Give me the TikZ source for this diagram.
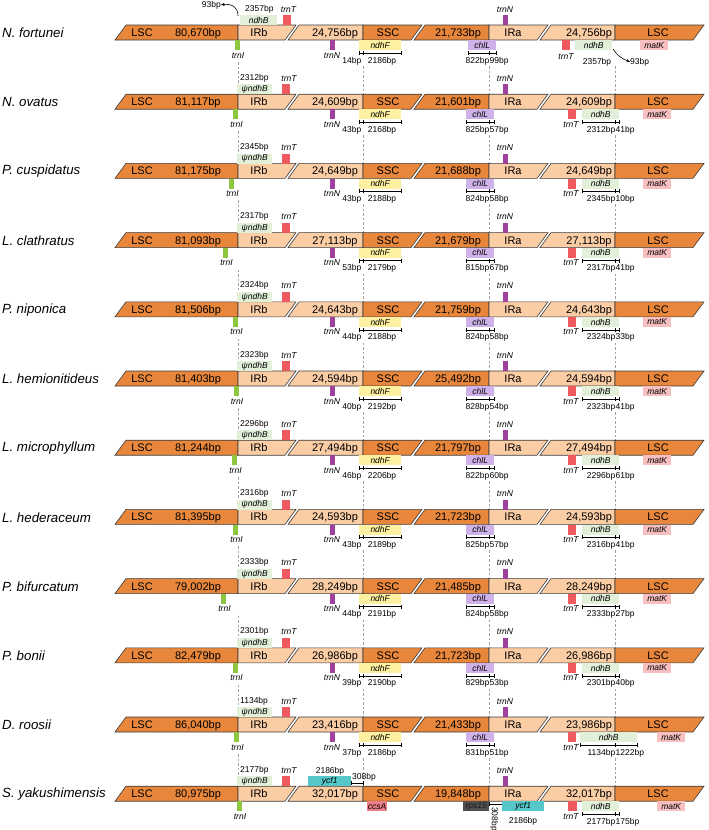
\documentclass[tikz,border=0pt]{standalone}
\usepackage{fontspec}
\setmainfont{Liberation Sans}
\usetikzlibrary{arrows.meta}
\definecolor{dk}{HTML}{E8873C}
\definecolor{lt}{HTML}{FBCDA5}
\definecolor{edgec}{HTML}{3A3A3A}
\definecolor{cndhB}{HTML}{E2EFD9}
\definecolor{ctrnT}{HTML}{EE5A5E}
\definecolor{ctrnI}{HTML}{8DC63F}
\definecolor{ctrnN}{HTML}{A0409F}
\definecolor{cndhF}{HTML}{FDF0A0}
\definecolor{cchlL}{HTML}{D0B2EA}
\definecolor{cmatK}{HTML}{F7BFBF}
\definecolor{cycf}{HTML}{55C7C9}
\definecolor{cccsA}{HTML}{EE7F89}
\definecolor{crps}{HTML}{555050}
\definecolor{dashc}{HTML}{A0A0A0}
\tikzset{
 seg/.style={draw=edgec,line width=0.6pt,line join=miter},
 bl/.style={font=\fontsize{11}{12}\selectfont,inner sep=0pt,anchor=base},
 spn/.style={font=\fontsize{13.3}{15}\selectfont\itshape,inner sep=0pt,anchor=west},
 lb/.style={font=\fontsize{8.5}{9}\selectfont,inner sep=0pt},
 gn/.style={font=\fontsize{8.5}{9}\selectfont\itshape,inner sep=0pt},
 gb/.style={rectangle,inner sep=0pt,minimum height=10pt,anchor=north west,font=\fontsize{8.5}{9}\selectfont\itshape},
 ml/.style={draw=black,line width=0.6pt},
 dl/.style={draw=dashc,line width=0.5pt,dash pattern=on 2.5pt off 2pt},
 arr/.style={draw=black,line width=0.6pt,-{Stealth[length=3.5pt,width=3pt]}},
}
\newcommand{\meas}[5]{%
 \coordinate (#1a) at (#3,#2); \coordinate (#1m) at (#4,#2); \coordinate (#1z) at (#5,#2);
 \draw[ml] (#1a) -- (#1z);
 \draw[ml] ([yshift=2pt]#1a) -- ([yshift=-2pt]#1a);
 \draw[ml] ([yshift=2pt]#1m) -- ([yshift=-2pt]#1m);
 \draw[ml] ([yshift=2pt]#1z) -- ([yshift=-2pt]#1z);
}
\newcommand{\rowbars}[7]{%
 \path[seg,fill=dk] (115,#2+15) -- (126,#2) -- (238,#2) -- (238,#2+15) -- cycle;
 \path[seg,fill=lt] (238,#2+15) -- (238,#2) -- (296,#2) -- (285,#2+15) -- cycle;
 \path[seg,fill=lt] (288,#2+15) -- (299,#2) -- (363,#2) -- (363,#2+15) -- cycle;
 \path[seg,fill=dk] (363,#2+15) -- (363,#2) -- (422,#2) -- (411,#2+15) -- cycle;
 \path[seg,fill=dk] (414,#2+15) -- (425,#2) -- (489,#2) -- (489,#2+15) -- cycle;
 \path[seg,fill=lt] (489,#2+15) -- (489,#2) -- (548,#2) -- (537,#2+15) -- cycle;
 \path[seg,fill=lt] (540,#2+15) -- (551,#2) -- (615,#2) -- (615,#2+15) -- cycle;
 \path[seg,fill=dk] (615,#2+15) -- (615,#2) -- (704,#2) -- (693,#2+15) -- cycle;
 \node[spn] (#1sp) at (2,#2+8) {#3};
 \node[bl] (#1la) at (142,#2+11.5) {LSC};
 \node[bl] (#1lan) at (198,#2+11.5) {#4bp};
 \node[bl] (#1ib) at (259,#2+11.5) {IRb};
 \node[bl] (#1ibn) at (335,#2+11.5) {#5bp};
 \node[bl] (#1ss) at (388,#2+11.5) {SSC};
 \node[bl] (#1ssn) at (458,#2+11.5) {#6bp};
 \node[bl] (#1ia) at (513,#2+11.5) {IRa};
 \node[bl] (#1ian) at (589,#2+11.5) {#7bp};
 \node[bl] (#1lb) at (658,#2+11.5) {LSC};
}
\newcommand{\rowtop}[4]{%
 \node[gb,fill=cndhB,minimum width=35pt] (#1pB) at (237,#2-10) {ψndhB};
 \node[lb,anchor=base west] (#1pBl) at (240,#2-14) {#3bp};
 \node[gb,fill=ctrnT,minimum width=8pt] (#1tTa) at (282,#2-10) {};
 \node[gn,anchor=base] (#1tTal) at (289,#2-13) {trnT};
 \node[gb,fill=ctrnN,minimum width=5pt] (#1tNa) at (502.5,#2-10) {};
 \node[gn,anchor=base] (#1tNal) at (505,#2-13) {trnN};
 \node[gb,fill=ctrnI,minimum width=5pt] (#1tI) at (#4,#2+15) {};
 \node[gn,anchor=base] (#1tIl) at (#4+3.5,#2+33) {trnI};
}
\newcommand{\rowmid}[6]{%
 \node[gb,fill=ctrnN,minimum width=5pt] (#1tNb) at (330,#2+15) {};
 \node[gn,anchor=base] (#1tNbl) at (332,#2+33) {trnN};
 \node[gb,fill=cndhF,minimum width=42pt] (#1F) at (359,#2+15) {ndhF};
 \meas{#1mf}{#2+28}{359}{363}{401}
 \node[lb,anchor=base east] (#1Fl) at (361.5,#2+38) {#3bp};
 \node[lb,anchor=base] (#1Fr) at (382,#2+38) {#4bp};
 \node[gb,fill=cchlL,minimum width=28pt] (#1C) at (466,#2+15) {chlL};
 \meas{#1mc}{#2+28}{466}{489}{494}
 \node[lb,anchor=base east] (#1Cl) at (489.5,#2+38) {#5bp};
 \node[lb,anchor=base west] (#1Cr) at (489.5,#2+38) {#6bp};
 \node[gb,fill=ctrnT,minimum width=8pt] (#1tTb) at (568,#2+15) {};
 \node[gn,anchor=base] (#1tTbl) at (571,#2+33) {trnT};
}
\newcommand{\rowend}[5]{%
 \node[gb,fill=cndhB,minimum width=37pt] (#1B) at (582,#2+15) {ndhB};
 \meas{#1mb}{#2+28}{582}{615}{619}
 \node[lb,anchor=base east] (#1Bl) at (615.5,#2+38) {#3bp};
 \node[lb,anchor=base west] (#1Br) at (615.5,#2+38) {#4bp};
 \node[gb,fill=cmatK,minimum width=28pt] (#1K) at (#5,#2+15) {matK};
}
\begin{document}
\begin{tikzpicture}[x=1pt,y=-1pt]
\useasboundingbox (0,0) rectangle (709,830);
% dashed junction guides
\foreach \i in {0,...,10} {
 \pgfmathsetmacro\ya{25+69.2*\i}
 \pgfmathsetmacro\yb{25+69.2*(\i+1)}
 \coordinate (gA\i) at (238,\ya+37); \coordinate (gAz\i) at (238,\yb);
 \coordinate (gB\i) at (363,\ya+41); \coordinate (gBz\i) at (363,\yb);
 \coordinate (gC\i) at (489,\ya+41); \coordinate (gCz\i) at (489,\yb);
 \coordinate (gD\i) at (615,\ya+41); \coordinate (gDz\i) at (615,\yb);
 \draw[dl] (gA\i) -- (gAz\i);
 \draw[dl] (gB\i) -- (gBz\i);
 \draw[dl] (gC\i) -- (gCz\i);
 \draw[dl] (gD\i) -- (gDz\i);
}
% ---------- row 1
\rowbars{r1}{25}{N. fortunei}{80,670}{24,756}{21,733}{24,756}
\node[gb,fill=cndhB,minimum width=37pt] (r1Bt) at (240,15) {ndhB};
\node[lb,anchor=base west] (r1Btl) at (245,11) {2357bp};
\node[lb,anchor=base east] (r1n93a) at (221,7) {93bp};
\coordinate (r1a0) at (238,16);
\draw[arr] (r1a0) .. controls (238,7) and (232,3.5) .. (r1n93a.east);
\node[gb,fill=ctrnT,minimum width=8pt] (r1tTa) at (283,15) {};
\node[gn,anchor=base] (r1tTal) at (288.5,12) {trnT};
\node[gb,fill=ctrnN,minimum width=5pt] (r1tNa) at (502.5,15) {};
\node[gn,anchor=base] (r1tNal) at (505,12) {trnN};
\node[gb,fill=ctrnI,minimum width=5pt] (r1tI) at (234.5,40) {};
\node[gn,anchor=base] (r1tIl) at (238,58) {trnI};
\node[gb,fill=ctrnN,minimum width=5pt] (r1tNb) at (330,40) {};
\node[gn,anchor=base] (r1tNbl) at (332,58) {trnN};
\node[gb,fill=cndhF,minimum width=42pt] (r1F) at (359,40) {ndhF};
\meas{r1mf}{53}{359}{363}{401}
\node[lb,anchor=base east] (r1Fl) at (361.5,63) {14bp};
\node[lb,anchor=base] (r1Fr) at (382,63) {2186bp};
\node[gb,fill=cchlL,minimum width=28pt] (r1C) at (468,40) {chlL};
\meas{r1mc}{53}{468}{489}{496}
\node[lb,anchor=base east] (r1Cl) at (489.5,63) {822bp};
\node[lb,anchor=base west] (r1Cr) at (489.5,63) {99bp};
\node[gb,fill=ctrnT,minimum width=8pt] (r1tTb) at (562,40) {};
\node[gn,anchor=base] (r1tTbl) at (566,59) {trnT};
\node[gb,fill=cndhB,minimum width=37pt] (r1Bb) at (575,40) {ndhB};
\node[lb,anchor=base] (r1Bbl) at (597,64) {2357bp};
\node[lb,anchor=base west] (r1n93b) at (630,64) {93bp};
\coordinate (r1a1) at (613,49);
\draw[arr] (r1a1) .. controls (617,55) and (621,58.5) .. (r1n93b.west);
\node[gb,fill=cmatK,minimum width=28pt] (r1K) at (640,40) {matK};
% ---------- rows 2-10
\rowbars{r2}{94.2}{N. ovatus}{81,117}{24,609}{21,601}{24,609}
\rowtop{r2}{94.2}{2312}{233}\rowmid{r2}{94.2}{43}{2168}{825}{57}\rowend{r2}{94.2}{2312}{41}{643}
\rowbars{r3}{163.4}{P. cuspidatus}{81,175}{24,649}{21,688}{24,649}
\rowtop{r3}{163.4}{2345}{229}\rowmid{r3}{163.4}{43}{2188}{824}{58}\rowend{r3}{163.4}{2345}{10}{643}
\rowbars{r4}{232.6}{L. clathratus}{81,093}{27,113}{21,679}{27,113}
\rowtop{r4}{232.6}{2317}{223}\rowmid{r4}{232.6}{53}{2179}{815}{67}\rowend{r4}{232.6}{2317}{41}{643}
\rowbars{r5}{301.8}{P. niponica}{81,506}{24,643}{21,759}{24,643}
\rowtop{r5}{301.8}{2324}{233}\rowmid{r5}{301.8}{44}{2188}{824}{58}\rowend{r5}{301.8}{2324}{33}{643}
\rowbars{r6}{371}{L. hemionitideus}{81,403}{24,594}{25,492}{24,594}
\rowtop{r6}{371}{2323}{233.5}\rowmid{r6}{371}{40}{2192}{828}{54}\rowend{r6}{371}{2323}{41}{643}
\rowbars{r7}{440.2}{L. microphyllum}{81,244}{27,494}{21,797}{27,494}
\rowtop{r7}{440.2}{2296}{232}\rowmid{r7}{440.2}{46}{2206}{822}{60}\rowend{r7}{440.2}{2296}{61}{643}
\rowbars{r8}{509.4}{L. hederaceum}{81,395}{24,593}{21,723}{24,593}
\rowtop{r8}{509.4}{2316}{233}\rowmid{r8}{509.4}{43}{2189}{825}{57}\rowend{r8}{509.4}{2316}{41}{643}
\rowbars{r9}{578.6}{P. bifurcatum}{79,002}{28,249}{21,485}{28,249}
\rowtop{r9}{578.6}{2333}{221}\rowmid{r9}{578.6}{44}{2191}{824}{58}\rowend{r9}{578.6}{2333}{27}{643}
\rowbars{r10}{647.8}{P. bonii}{82,479}{26,986}{21,723}{26,986}
\rowtop{r10}{647.8}{2301}{233}\rowmid{r10}{647.8}{39}{2190}{829}{53}\rowend{r10}{647.8}{2301}{40}{643}
% ---------- row 11
\rowbars{r11}{717}{D. roosii}{86,040}{23,416}{21,433}{23,986}
\rowtop{r11}{717}{1134}{234}\rowmid{r11}{717}{37}{2186}{831}{51}
\node[gb,fill=cndhB,minimum width=57pt] (r11B) at (580,732) {ndhB};
\meas{r11mb}{745}{580}{615}{637}
\node[lb,anchor=base east] (r11Bl) at (615.5,755) {1134bp};
\node[lb,anchor=base west] (r11Br) at (615.5,755) {1222bp};
\node[gb,fill=cmatK,minimum width=28pt] (r11K) at (657,732) {matK};
% ---------- row 12
\rowbars{r12}{786.2}{S. yakushimensis}{80,975}{32,017}{19,848}{32,017}
\rowtop{r12}{786.2}{2177}{236.5}
\node[gb,fill=cycf,minimum width=43pt] (r12Ya) at (308,776.2) {ycf1};
\node[lb,anchor=base] (r12Yal) at (330,773) {2186bp};
\meas{r12my}{783}{351}{363}{363}
\node[lb,anchor=base west] (r12Yar) at (352,779.5) {308bp};
\node[gb,fill=cccsA,minimum width=20pt] (r12S) at (367,801.2) {ccsA};
\node[gb,fill=crps,minimum width=26pt,text=black!90] (r12R) at (463,801.2) {rps15};
\meas{r12mr}{804}{489}{489}{502}
\node[lb,rotate=-90,anchor=west] (r12v) at (494,807) {308bp};
\node[gb,fill=cycf,minimum width=42pt] (r12Yb) at (502,801.2) {ycf1};
\node[lb,anchor=base] (r12Ybl) at (523,823) {2186bp};
\node[gb,fill=ctrnT,minimum width=9pt] (r12tTb) at (568,801.2) {};
\node[gn,anchor=base] (r12tTbl) at (571,819) {trnT};
\rowend{r12}{786.2}{2177}{175}{657}
\end{tikzpicture}
\end{document}
